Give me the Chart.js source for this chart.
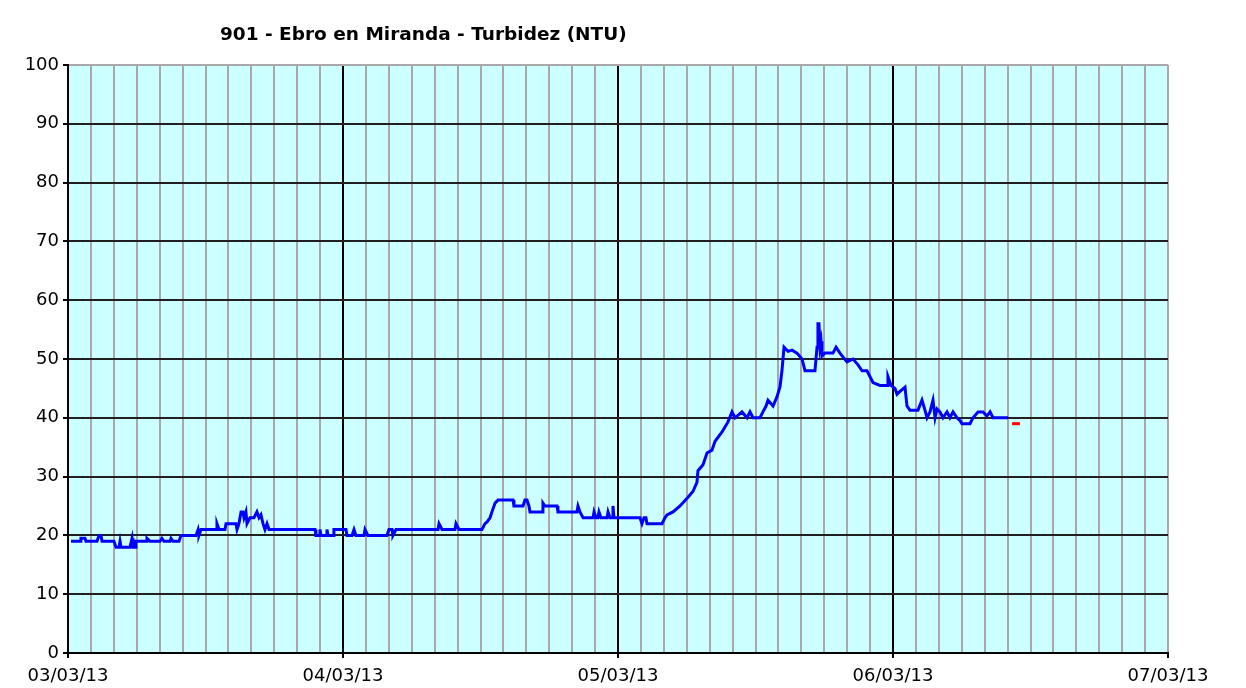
<!DOCTYPE html>
<html>
<head>
<meta charset="utf-8">
<script src="https://cdn.jsdelivr.net/npm/chart.js@4.4.0/dist/chart.umd.min.js"></script>
<style>
html,body{margin:0;padding:0;background:#ffffff;}
#wrap{width:1246px;height:688px;position:relative;}
</style>
</head>
<body>
<div id="wrap"><canvas id="c" width="1246" height="688"></canvas></div>
<script>
const chartTitle = "901 - Ebro en Miranda - Turbidez (NTU)";
const dayLabels = ["03/03/13", "04/03/13", "05/03/13", "06/03/13", "07/03/13"];
// hours since 03/03/13 00:00
const hours = [0.26,1.05,1.13,1.48,1.57,2.53,2.71,2.88,2.97,4.01,4.19,4.45,4.54,4.63,5.41,5.59,5.67,5.85,5.93,6.81,6.89,7.16,8.03,8.20,8.38,8.90,8.99,9.16,9.69,9.86,11.17,11.35,11.43,11.61,12.92,13.00,13.18,13.70,13.79,14.66,14.75,14.92,15.10,15.27,15.36,15.53,15.62,15.88,16.23,16.49,16.67,16.84,17.02,17.19,17.37,17.54,
21.56,21.64,21.91,21.99,22.08,22.52,22.60,22.69,23.13,23.21,24.26,24.35,24.79,24.96,25.13,25.83,25.92,26.18,27.84,28.01,28.28,28.36,28.63,32.29,32.38,32.64,33.77,33.86,34.12,36.13,36.39,36.57,36.83,37.00,37.27,37.53,38.84,38.92,39.71,39.88,40.06,40.23,40.32,41.37,41.45,41.63,42.68,42.76,44.42,44.51,44.68,44.95,
45.82,45.91,46.08,46.25,46.34,46.52,47.04,47.13,47.30,47.48,47.56,47.65,49.92,50.09,50.27,50.44,50.53,51.84,52.10,52.28,52.80,53.41,54.11,54.55,54.89,54.98,55.42,55.77,56.20,56.47,57.08,57.60,57.95,58.21,58.82,59.26,59.52,59.78,60.39,60.65,60.92,61.09,61.53,61.88,62.14,62.31,62.49,62.84,63.19,63.62,64.06,64.32,65.19,65.37,65.45,65.54,65.63,65.72,65.80,66.07,66.76,67.03,67.37,67.99,68.51,68.95,69.30,69.73,69.99,70.25,70.87,71.48,71.56,71.83,72.17,72.35,72.61,73.05,73.22,73.48,74.18,74.53,74.79,74.97,75.23,75.49,75.67,75.84,76.10,76.36,76.71,76.97,77.24,77.59,77.85,78.02,78.72,78.98,79.42,79.85,80.20,80.47,80.73,82.04];
const turbidity = [19,19,19.5,19.5,19,19,20,20,19,19,18,18,19,18,18,19.5,18,18,19,19,19.5,19,19,19.5,19,19,19.5,19,19,20,20,21,20,21,21,22,21,21,22,22,21,22,24,24,23,24,22,23,23,24,23,23.5,22,21,22,21,
21,20,20,21,20,20,21,20,20,21,21,20,20,21,20,20,21,20,20,21,21,20,21,21,22,21,21,22,21,21,22,22.3,23,24,25.5,26,26,25,25,26,26,25,24,24,25.5,25,25,24,24,25,24,23,
23,24,23,23,24,23,23,24,23,23,25,23,23,22,23,23,22,22,23,23.5,24,25,26.5,27.5,29,31,32,34,34.5,36,37.6,39.3,41,40,41,40,41,40,40,41,42,43,42,43.6,45.3,48,52,51.3,51.5,51,50,48,48,52,56,56,52,53,50.5,51,51,52,51,49.5,50,49,48,48,47,46,45.5,45.5,47,45.5,45,44,44.5,45.2,42,41.3,41.3,43,41.3,40,41,43,40,41.5,41,40,41,40,41,40,39.5,39,39,40,41,41,40.3,41,40,40];
const redHours = [82.39, 83.08];
const redValues = [39, 39];
const yTicks = [0,10,20,30,40,50,60,70,80,90,100];

const blueData = hours.map((h, i) => ({x: h, y: turbidity[i]}));
const redData = redHours.map((h, i) => ({x: h, y: redValues[i]}));

const bgPlugin = {
  id: 'plotBg',
  beforeDraw(chart) {
    const a = chart.chartArea, ctx = chart.ctx;
    ctx.save();
    ctx.fillStyle = '#ffffff';
    ctx.fillRect(0, 0, chart.width, chart.height);
    ctx.fillStyle = '#ccffff';
    ctx.fillRect(a.left, a.top, a.right - a.left, a.bottom - a.top);
    ctx.restore();
  },
  afterDraw(chart) {
    const a = chart.chartArea, ctx = chart.ctx;
    ctx.save();
    ctx.font = 'bold 18.5px "DejaVu Sans"';
    ctx.fillStyle = '#000000';
    ctx.textAlign = 'center';
    ctx.textBaseline = 'middle';
    ctx.fillText(chartTitle, a.left + (a.right - a.left) * 0.323, 35);
    ctx.restore();
  }
};

new Chart(document.getElementById('c'), {
  type: 'line',
  data: {
    datasets: [
      {data: blueData, borderColor: '#0000ff', borderWidth: 3, pointRadius: 0, tension: 0, fill: false, borderJoinStyle: 'miter'},
      {data: redData, borderColor: '#ff0000', borderWidth: 3, pointRadius: 0, tension: 0, fill: false}
    ]
  },
  options: {
    responsive: false,
    animation: false,
    events: [],
    layout: {padding: {top: 65, right: 78, left: 0, bottom: 0}},
    plugins: {legend: {display: false}, title: {display: false}, tooltip: {enabled: false}},
    scales: {
      x: {
        type: 'linear', min: 0, max: 96,
        afterFit(s) { s.height = 35; },
        afterBuildTicks(s) { const t = []; for (let v = 0; v <= 96; v += 2) t.push({value: v}); s.ticks = t; },
        border: {display: true, color: '#000000', width: 2},
        grid: {
          drawTicks: true, tickLength: 5,
          color: (c) => { const v = c.tick ? c.tick.value : 0; if (v === 96) return '#a8a8a8'; return v % 24 === 0 ? '#000000' : '#a8a8a8'; },
          tickColor: (c) => (c.tick && c.tick.value % 24 === 0) ? '#000000' : 'rgba(0,0,0,0)',
          lineWidth: 2
        },
        ticks: {
          autoSkip: false, maxRotation: 0, padding: 8, color: '#000000',
          font: {family: '"DejaVu Sans"', size: 18},
          callback: (v) => (v % 24 === 0) ? dayLabels[v / 24] : ''
        }
      },
      y: {
        min: 0, max: 100,
        afterFit(s) { s.width = 68; },
        afterBuildTicks(s) { s.ticks = yTicks.map(v => ({value: v})); },
        border: {display: true, color: '#000000', width: 2},
        grid: {
          drawTicks: true, tickLength: 5,
          color: (c) => (c.tick && c.tick.value === 100) ? '#a8a8a8' : '#202020',
          tickColor: '#000000',
          lineWidth: 2
        },
        ticks: {padding: 4, color: '#000000', font: {family: '"DejaVu Sans"', size: 18}}
      }
    }
  },
  plugins: [bgPlugin]
});
</script>
</body>
</html>
